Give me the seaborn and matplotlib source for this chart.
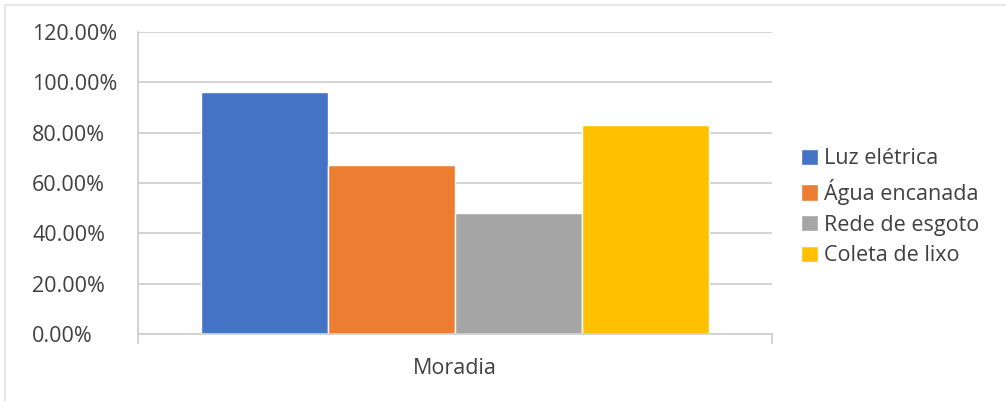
import matplotlib
matplotlib.use("Agg")
import matplotlib.pyplot as plt
from matplotlib.lines import Line2D
from matplotlib.ticker import FuncFormatter
import seaborn as sns
import pandas as pd

# Data
categoria = ["Moradia"]
servicos = ["Luz elétrica", "Água encanada", "Rede de esgoto", "Coleta de lixo"]
percentuais = [0.96, 0.67, 0.48, 0.83]
cores = ["#4472C4", "#ED7D31", "#A5A5A5", "#FFC000"]
yticks = [0.0, 0.2, 0.4, 0.6, 0.8, 1.0, 1.2]

df = pd.DataFrame({
    "categoria": categoria * len(servicos),
    "servico": servicos,
    "valor": percentuais,
})

sns.set_theme(style="white")
plt.rcParams["font.family"] = ["Open Sans", "DejaVu Sans"]
texto = "#404040"
grade = "#d0d0d0"
fs = 15.5

fig = plt.figure(figsize=(10.06, 4.01), dpi=100)
ax = fig.add_axes([0.1372, 0.167, 0.6302, 0.753])

sns.barplot(data=df, x="categoria", y="valor", hue="servico",
            hue_order=servicos, palette=cores, width=0.8,
            saturation=1, ax=ax, legend=True)

ax.set_xlim(-0.5, 0.5)
ax.set_ylim(0, 1.2)
ax.set_yticks(yticks)
ax.yaxis.set_major_formatter(FuncFormatter(lambda v, _: f"{v * 100:.2f}%"))
ax.grid(axis="y", color=grade, linewidth=1.3)
ax.set_axisbelow(True)

for s in ["top", "right"]:
    ax.spines[s].set_visible(False)
for s in ["left", "bottom"]:
    ax.spines[s].set_color(grade)
    ax.spines[s].set_linewidth(1.3)

# y labels are left-aligned in a column starting near the figure edge
tick_len = 7.2
ax.tick_params(axis="y", which="major", direction="out", length=tick_len,
               width=1.3, color=grade, labelsize=fs, labelcolor=texto,
               pad=(138 - 32) * 0.72 - tick_len)
for lab in ax.get_yticklabels():
    lab.set_horizontalalignment("left")

ax.set_xticks([0])
ax.set_xticklabels(["Moradia"])
ax.set_xticks([-0.5, 0.5], minor=True)
ax.tick_params(axis="x", which="major", length=0, labelsize=fs,
               labelcolor=texto, pad=17)
ax.tick_params(axis="x", which="minor", direction="out", length=tick_len,
               width=1.3, color=grade, bottom=True)
ax.set_xlabel("")
ax.set_ylabel("")

handles, labels = ax.get_legend_handles_labels()
ax.legend(handles, labels, loc="upper left", bbox_to_anchor=(0.796, 0.63),
          bbox_transform=fig.transFigure, frameon=False, fontsize=fs,
          labelcolor=texto, handlelength=0.8, handleheight=0.8,
          handletextpad=0.3, labelspacing=0.45, borderaxespad=0,
          borderpad=0)

# Thin frame lines along the top and left edges of the figure
fig.add_artist(Line2D([5 / 1006, 1.0], [1 - 5 / 401] * 2,
                      transform=fig.transFigure, color="#e6e6e6", lw=1.5))
fig.add_artist(Line2D([5 / 1006] * 2, [0.0, 1 - 5 / 401],
                      transform=fig.transFigure, color="#e6e6e6", lw=1.5))

fig.savefig("out.png", dpi=100)
